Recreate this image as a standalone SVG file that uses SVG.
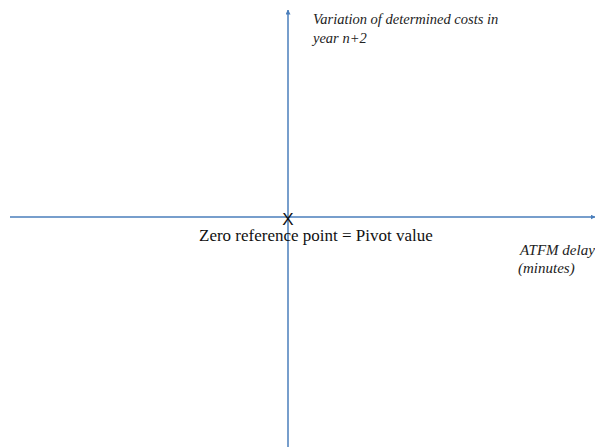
<svg xmlns="http://www.w3.org/2000/svg" width="595" height="447" viewBox="0 0 595 447">
<style>
.ax{stroke:#4A7EBB;stroke-width:1.5;fill:none}
.it{font-family:"Liberation Serif",serif;font-style:italic;font-size:14.5px;fill:#222}
.it2{font-size:15px}
.lb{font-family:"Liberation Serif",serif;font-size:17px;fill:#111}
</style>
<defs>
<marker id="ah" viewBox="0 0 10 10" refX="9" refY="5" markerWidth="5" markerHeight="5" orient="auto" markerUnits="userSpaceOnUse"><path d="M0,0 L10,5 L0,10 Z" fill="#4A7EBB"/></marker>
</defs>
<rect width="595" height="447" fill="#fff"/>
<g id="connectors">
<line class="ax" x1="288" y1="447" x2="288" y2="10" marker-end="url(#ah)"/>
<line class="ax" x1="10" y1="217" x2="595" y2="217" marker-end="url(#ah)"/>
</g>
<g id="pivot">
<text x="288" y="225" text-anchor="middle" font-family="Liberation Sans, sans-serif" font-size="17" fill="#111">X</text>
<text class="lb" x="199" y="241">Zero reference point = Pivot value</text>
</g>
<g id="y-label">
<text class="it" x="313" y="24">Variation of determined costs in</text>
<text class="it" x="313" y="43">year n+2</text>
</g>
<g id="x-label">
<text class="it it2" x="520" y="255">ATFM delay</text>
<text class="it it2" x="518" y="273">(minutes)</text>
</g>
</svg>
